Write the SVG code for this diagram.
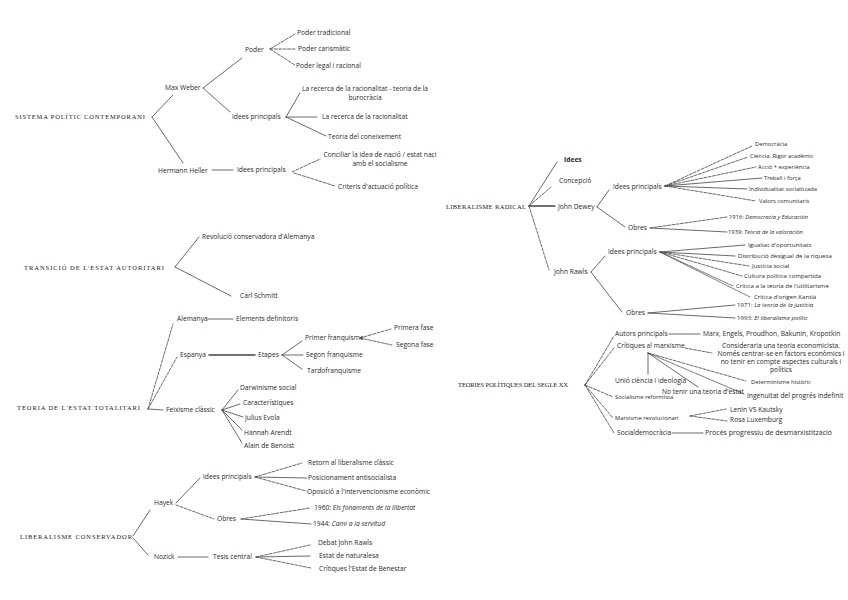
<svg xmlns="http://www.w3.org/2000/svg" width="848" height="600" viewBox="0 0 848 600">
<style>
.t{font-family:"Open Sans","Liberation Sans",sans-serif;font-size:6.7px;fill:#2a2a2a}
.s{font-size:5.8px}
.q{font-size:6.1px}
.g{font-size:7px}
.b{font-weight:bold}
.i{font-style:italic}
.r{font-family:"Liberation Serif",serif;font-size:6.5px;fill:#222}
.m{text-anchor:middle}
#connectors path{fill:none;stroke:#444;stroke-width:0.8;stroke-linecap:round}
#connectors .d{stroke-dasharray:3 1.4}
#connectors .o{stroke-dasharray:1 1}
#connectors .w{stroke-width:1.4}
</style>
<rect width="848" height="600" fill="#fff"/>
<g id="connectors">
<path d="M152,117L173,95M152,117L183,163"/>
<path d="M203,88L242,58M203,88L230,112"/>
<path d="M270,49L295,34M270,49L296,49M270,49L295,65" class="d"/>
<path d="M286,117L300,93M286,117L317,117M286,117L326,136"/>
<path d="M212,170L233,170"/>
<path d="M292,172L320,159M294,173L335,186" class="d"/>
<path d="M175,267L199,237M175,267L231,296"/>
<path d="M148,409L173,324M148,409L177,357" class="d"/>
<path d="M148,409L163,410"/>
<path d="M208,319L233,319"/>
<path d="M209,355L255,355" class="w"/>
<path d="M282,355L302,341M282,355L303,355M282,355L302,369"/>
<path d="M360,338L391,329M360,338L392,345" class="d"/>
<path d="M222,410L238,390M222,410L240,404M222,410L243,417M222,410L242,430M222,410L242,443"/>
<path d="M133,536L150,510M133,538L148,555"/>
<path d="M176,503L200,478"/>
<path d="M176,505L214,519" class="d"/>
<path d="M178,557L208,557"/>
<path d="M255,477L302,463M255,477L306,491" class="d"/>
<path d="M255,477L307,478"/>
<path d="M241,519L310,508" class="d"/>
<path d="M241,519L311,524"/>
<path d="M256,557L310,545M256,557L311,568" class="d"/>
<path d="M256,557L310,556"/>
<path d="M529,206L557,162"/>
<path d="M529,206L551,187M529,206L549,270" class="d"/>
<path d="M529,206L555,206" class="w"/>
<path d="M597,207L609,190M597,207L625,227"/>
<path d="M665,186L752,146M665,186L748,157M665,186L756,167" class="d"/>
<path d="M665,186L762,178M665,186L747,189"/>
<path d="M665,186L756,201" class="d"/>
<path d="M650,228L727,217" class="d"/>
<path d="M650,228L727,232"/>
<path d="M591,272L605,256M591,272L622,312"/>
<path d="M660,252L745,245M660,252L735,256"/>
<path d="M660,252L749,266M660,252L742,276" class="d"/>
<path d="M660,252L733,286M660,252L750,297" class="o"/>
<path d="M648,313L735,305M648,313L735,318"/>
<path d="M585,385L614,336M585,385L614,348M585,385L613,397M585,385L613,418M585,385L614,433" class="d"/>
<path d="M669,334L700,334"/>
<path d="M685,348L712,353" class="d"/>
<path d="M648,353L648,374M648,353L698,387"/>
<path d="M648,353L746,381" class="d"/>
<path d="M648,353L744,394" class="o"/>
<path d="M690,416L726,409M690,416L727,421" class="d"/>
<path d="M672,433L703,433"/>
</g>
<g id="sistema">
<text class="r" x="15" y="119" textLength="130" lengthAdjust="spacing">SISTEMA POLÍTIC CONTEMPORANI</text>
<text class="t" x="165" y="90">Max Weber</text>
<text class="t" x="158" y="173">Hermann Heller</text>
<text class="t" x="245" y="52">Poder</text>
<text class="t" x="297" y="35">Poder tradicional</text>
<text class="t" x="298" y="51">Poder carismàtic</text>
<text class="t" x="296" y="68">Poder legal i racional</text>
<text class="t" x="232" y="119">Idees principals</text>
<text class="t m" x="365" y="91">La recerca de la racionalitat - teoria de la</text>
<text class="t m" x="365" y="100">burocràcia</text>
<text class="t" x="322" y="119">La recerca de la racionalitat</text>
<text class="t" x="328" y="139">Teoria del coneixement</text>
<text class="t" x="237" y="172">Idees principals</text>
<text class="t m" x="380" y="157">Conciliar la idea de nació / estat naci</text>
<text class="t m" x="380" y="166">amb el socialisme</text>
<text class="t" x="338" y="189">Criteris d'actuació política</text>
</g>
<g id="transicio">
<text class="r" x="24" y="270" textLength="140" lengthAdjust="spacing">TRANSICIÓ DE L'ESTAT AUTORITARI</text>
<text class="t" x="202" y="239">Revolució conservadora d'Alemanya</text>
<text class="t" x="240" y="298">Carl Schmitt</text>
</g>
<g id="totalitari">
<text class="r" x="17" y="410" textLength="123" lengthAdjust="spacing">TEORIA DE L'ESTAT TOTALITARI</text>
<text class="t" x="177" y="321">Alemanya</text>
<text class="t" x="236" y="321">Elements definitoris</text>
<text class="t" x="180" y="357">Espanya</text>
<text class="t" x="258" y="357">Etapes</text>
<text class="t" x="305" y="340">Primer franquisme</text>
<text class="t" x="394" y="330">Primera fase</text>
<text class="t" x="396" y="347">Segona fase</text>
<text class="t" x="306" y="357">Segon franquisme</text>
<text class="t" x="307" y="373">Tardofranquisme</text>
<text class="t" x="166" y="412">Feixisme clàssic</text>
<text class="t" x="240" y="390">Darwinisme social</text>
<text class="t" x="243" y="405">Característiques</text>
<text class="t" x="245" y="420">Julius Evola</text>
<text class="t" x="244" y="435">Hannah Arendt</text>
<text class="t" x="244" y="448">Alain de Benoist</text>
</g>
<g id="liberalisme">
<text class="r" x="20" y="539" textLength="112" lengthAdjust="spacing">LIBERALISME CONSERVADOR</text>
<text class="t" x="154" y="505">Hayek</text>
<text class="t" x="154" y="559">Nozick</text>
<text class="t" x="203" y="479">Idees principals</text>
<text class="t" x="217" y="521">Obres</text>
<text class="t" x="308" y="465">Retorn al liberalisme clàssic</text>
<text class="t" x="308" y="480">Posicionament antisocialista</text>
<text class="t" x="307" y="494">Oposició a l'intervencionisme econòmic</text>
<text class="t" x="314" y="510">1960: <tspan class="i">Els fonaments de la llibertat</tspan></text>
<text class="t" x="313" y="526">1944: <tspan class="i">Camí a la servitud</tspan></text>
<text class="t" x="213" y="559">Tesis central</text>
<text class="t" x="318" y="545">Debat John Rawls</text>
<text class="t" x="319" y="558">Estat de naturalesa</text>
<text class="t" x="319" y="571">Crítiques l'Estat de Benestar</text>
</g>
<g id="radical">
<text class="r" x="446" y="209" textLength="80" lengthAdjust="spacing">LIBERALISME RADICAL</text>
<text class="t b" x="564" y="162">Idees</text>
<text class="t" x="559" y="183">Concepció</text>
<text class="t" x="558" y="209">John Dewey</text>
<text class="t" x="554" y="274">John Rawls</text>
<text class="t" x="613" y="189">Idees principals</text>
<text class="t" x="628" y="230">Obres</text>
<text class="t s" x="755" y="146">Democràcia</text>
<text class="t s" x="750" y="158">Ciència. Rigor acadèmic</text>
<text class="t s" x="758" y="169">Acció + experiència</text>
<text class="t s" x="764" y="180">Treball i força</text>
<text class="t s" x="749" y="191">Individualitat socialitzada</text>
<text class="t s" x="759" y="203">Valors comunitaris</text>
<text class="t s" x="729" y="219">1916: <tspan class="i">Democracia y Educación</tspan></text>
<text class="t s" x="728" y="234">1939: <tspan class="i">Teoría de la valoración</tspan></text>
<text class="t" x="608" y="254">Idees principals</text>
<text class="t" x="626" y="315">Obres</text>
<text class="t q" x="748" y="247">Igualtat d'oportunitats</text>
<text class="t q" x="738" y="258">Distribució desigual de la riquesa</text>
<text class="t q" x="752" y="268">Justícia social</text>
<text class="t q" x="744" y="278">Cultura política compartida</text>
<text class="t q" x="736" y="288">Crítica a la teoria de l'utilitarisme</text>
<text class="t q" x="754" y="299">Crítica d'origen Kantià</text>
<text class="t q" x="737" y="307">1971: <tspan class="i">La teoria de la justícia</tspan></text>
<text class="t q" x="737" y="320">1993: <tspan class="i">El liberalisme polític</tspan></text>
</g>
<g id="socialisme">
<text class="r" x="458" y="387" textLength="110" lengthAdjust="spacing">TEORIES POLÍTIQUES DEL SEGLE XX</text>
<text class="t" x="615" y="336">Autors principals</text>
<text class="t" x="703" y="336">Marx, Engels, Proudhon, Bakunin, Kropotkin</text>
<text class="t" x="617" y="348">Crítiques al marxisme</text>
<text class="t m" x="781" y="348">Consideraria una teoria economicista.</text>
<text class="t m" x="781" y="356">Només centrar-se en factors econòmics i</text>
<text class="t m" x="781" y="364">no tenir en compte aspectes culturals i</text>
<text class="t m" x="781" y="372">polítics</text>
<text class="t" x="615" y="383">Unió ciència i ideologia</text>
<text class="t" x="662" y="394">No tenir una teoria d'estat</text>
<text class="t s" x="751" y="384">Determinisme històric</text>
<text class="t" x="747" y="398">Ingenuïtat del progrés indefinit</text>
<text class="t s" x="615" y="399">Socialisme reformista</text>
<text class="t s" x="615" y="420">Marxisme revolucionari</text>
<text class="t" x="730" y="412">Lenin VS Kautsky</text>
<text class="t" x="730" y="422">Rosa Luxemburg</text>
<text class="t" x="617" y="435">Socialdemocràcia</text>
<text class="t g" x="705" y="435">Procés progressiu de desmarxistització</text>
</g>
</svg>
